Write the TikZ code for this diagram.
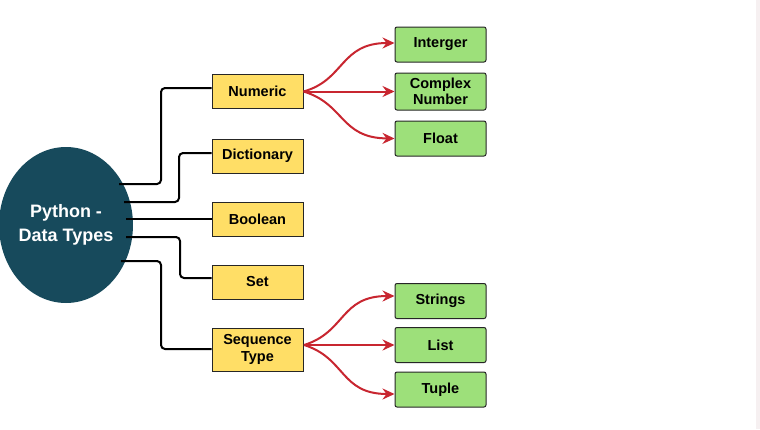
\documentclass[tikz,border=0pt]{standalone}
\usepackage{fontspec}
\setmainfont{Liberation Sans}
\usetikzlibrary{shapes.geometric,arrows.meta}
\definecolor{rootfill}{RGB}{23,74,92}
\definecolor{catfill}{RGB}{255,222,102}
\definecolor{leaffill}{RGB}{157,224,122}
\definecolor{arrowred}{RGB}{200,38,48}
\definecolor{edgestrip}{RGB}{246,240,241}
\tikzset{
  root/.style={ellipse, fill=rootfill, minimum width=122pt, minimum height=156pt,
    inner sep=0pt, text=white, align=center, font=\fontsize{18}{24}\selectfont\bfseries},
  catbox/.style={draw=black!85, line width=1pt, fill=catfill, minimum width=91pt,
    minimum height=34pt, inner sep=0pt, align=center, font=\fontsize{14.5}{16.5}\selectfont\bfseries},
  leafbox/.style={draw=black!85, line width=1pt, fill=leaffill, rounded corners=2pt,
    minimum width=91pt, minimum height=35pt, inner sep=0pt, align=center,
    font=\fontsize{14.5}{16.5}\selectfont\bfseries},
  branch/.style={line width=2pt, black, rounded corners=4pt},
  redarrow/.style={line width=2pt, arrowred, -{Stealth[length=12pt,width=11pt,inset=4pt]}}
}
\begin{document}
\begin{tikzpicture}[x=1pt,y=-1pt]
  \useasboundingbox (0,0) rectangle (760,429);
  \fill[white] (0,0) rectangle (760,429);
  \fill[edgestrip] (756,0) rectangle (760,429);

  % root
  \node[root] (py) at (66,225) {Python -\\Data Types};

  % categories
  \node[catbox] (num) at (257.5,91.5) {Numeric};
  \node[catbox] (dic) at (257.5,156) {Dictionary};
  \node[catbox] (boo) at (257.5,219) {Boolean};
  \node[catbox] (set) at (257.5,282) {Set};
  \node[catbox, minimum height=43pt] (seq) at (257.5,349.5) {Sequence\\Type};

  % leaves
  \node[leafbox] (int) at (440.5,44.5) {Interger};
  \node[leafbox, minimum height=37pt] (cpx) at (440.5,91.5) {Complex\\Number};
  \node[leafbox] (flo) at (440.5,138.5) {Float};
  \node[leafbox] (str) at (440.5,301) {Strings};
  \node[leafbox] (lst) at (440.5,345) {List};
  \node[leafbox] (tup) at (440.5,389.5) {Tuple};

  % coordinates where branches leave the root
  \coordinate (r1) at (119,184);
  \coordinate (r2) at (124,202);
  \coordinate (r3) at (126,219);
  \coordinate (r4) at (126,237);
  \coordinate (r5) at (121,261);
  \coordinate (sq) at (304,345);

  % branches from root to categories
  \draw[branch] (r1) -- (161,184) -- (161,88) -- (num.west |- 0,88);
  \draw[branch] (r2) -- (179,202) -- (179,153) -- (dic.west |- 0,153);
  \draw[branch] (r3) -- (boo.west);
  \draw[branch] (r4) -- (180,237) -- (180,278) -- (set.west |- 0,278);
  \draw[branch] (r5) -- (161,261) -- (161,349) -- (seq.west |- 0,349);

  % numeric subtypes
  \draw[redarrow] (num.east) .. controls (345,80) and (340,43) .. (int.west |- 0,43);
  \draw[redarrow] (num.east) -- (cpx.west);
  \draw[redarrow] (num.east) .. controls (345,104) and (340,138) .. (flo.west);

  % sequence subtypes
  \draw[redarrow] (sq) .. controls (346,332) and (340,296) .. (str.west |- 0,296);
  \draw[redarrow] (sq) -- (lst.west);
  \draw[redarrow] (sq) .. controls (346,358) and (340,394) .. (tup.west |- 0,394);
\end{tikzpicture}
\end{document}
